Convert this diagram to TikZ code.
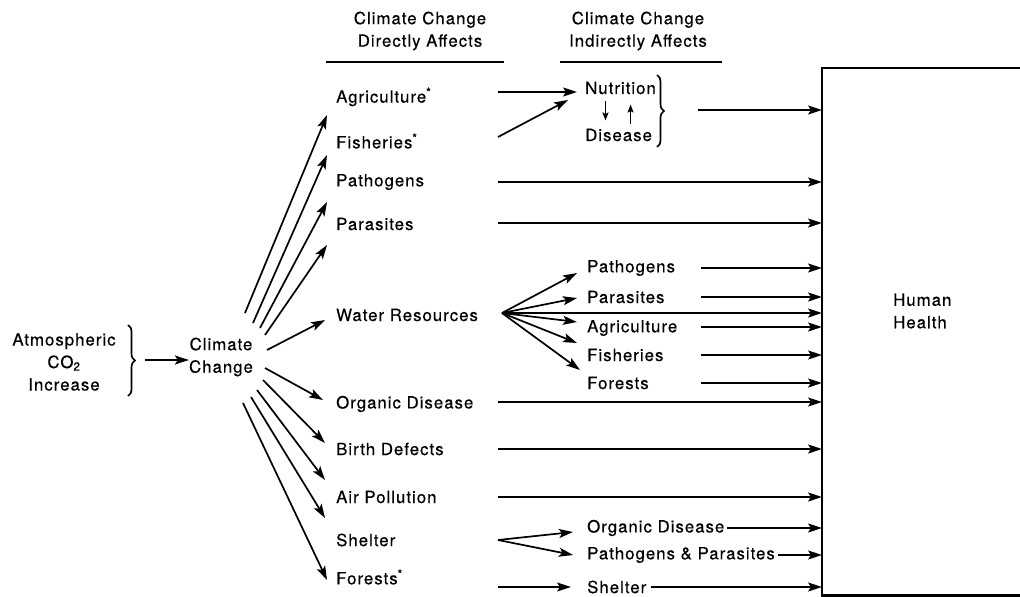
\documentclass[tikz,border=0pt]{standalone}
\usepackage{fontspec}
\setmainfont{TeX Gyre Heros}[LetterSpace=6, FakeBold=0.4]
\usetikzlibrary{arrows.meta,decorations.pathreplacing}

\begin{document}
\begin{tikzpicture}
		[x=1pt, y=-1pt,
		every node/.style = {inner sep=0pt, font=\fontsize{16.8}{22.5}\selectfont},
		item/.style = {anchor=west},
		arr/.style = {line width=1.7pt, -{Stealth[length=14pt,width=9pt,inset=3pt]}},
		small/.style = {line width=1.5pt, -{Stealth[length=8pt,width=6pt,inset=1.5pt]}},
		rule/.style = {line width=2pt},
		curly/.style = {line width=1.7pt, decorate, decoration={brace, amplitude=7pt}}]
	\useasboundingbox (0,0) rectangle (1020,597);
	% headings
	\node[align=center] (hdr1) at (420,31) {Climate Change\\Directly Affects};
	\node[align=center] (hdr2) at (638,31) {Climate Change\\Indirectly Affects};
	\draw[rule] ([shift={(-94,31)}]hdr1.center) -- ([shift={(84,31)}]hdr1.center);
	\draw[rule] ([shift={(-78,31)}]hdr2.center) -- ([shift={(84,31)}]hdr2.center);
	% source
	\node[align=center] (atm) at (64,362) {Atmospheric\\CO\textsubscript{2}\\Increase};
	\node[align=center] (cc) at (221,357) {Climate\\Change};
	\draw[curly] (128,325) -- (128,396);
	\coordinate (atmtip) at (145,360);
	\draw[arr] (atmtip) -- (cc.west |- atmtip);
	% directly affected
	\node[item] (agri) at (336,97) {Agriculture\textsuperscript{*}};
	\node[item] (fish) at (336,141) {Fisheries\textsuperscript{*}};
	\node[item] (path) at (336,182) {Pathogens};
	\node[item] (para) at (336,224) {Parasites};
	\node[item] (water) at (336,315) {Water Resources};
	\node[item] (organic) at (336,404) {Organic Disease};
	\node[item] (birth) at (336,449) {Birth Defects};
	\node[item] (air) at (336,497) {Air Pollution};
	\node[item] (shelter) at (336,540) {Shelter};
	\node[item] (forests) at (336,577) {Forests\textsuperscript{*}};
	% indirectly affected
	\node[item] (nutr) at (585,88) {Nutrition};
	\node[item] (dis) at (585,135) {Disease};
	\node[item] (wpath) at (587,268) {Pathogens};
	\node[item] (wpara) at (587,297) {Parasites};
	\node[item] (wagri) at (587,328) {Agriculture};
	\node[item] (wfish) at (587,355) {Fisheries};
	\node[item] (wfor) at (587,383) {Forests};
	\node[item] (sorg) at (587,528) {Organic Disease};
	\node[item] (spp) at (587,555) {Pathogens \& Parasites};
	\node[item] (sshel) at (587,587) {Shelter};
	% human health (the box runs off the page on the right)
	\node[anchor=north west, minimum width=198pt, minimum height=527pt] (health) at (822,68) {};
	\coordinate (edge) at (1024,0);
	\draw[line width=2.4pt] (health.north west -| edge) -- (health.north west) -- (health.south west) -- (health.south west -| edge);
	\node[item, align=left] (hhtext) at (893,311) {Human\\Health};
	% fan out of climate change
	\foreach \n/\x/\y in {1/245/313, 2/253/323, 3/260/328, 4/265/335, 5/267/350,
		6/265/368, 7/263/380, 8/257/390, 9/251/397, 10/243/403}
		\coordinate (f\n) at (\x,\y);
	\draw[arr] (f1) -- ([shift={(-9,18)}]agri.west);
	\draw[arr] (f2) -- ([shift={(-9,14)}]fish.west);
	\draw[arr] (f3) -- ([shift={(-9,20)}]path.west);
	\draw[arr] (f4) -- ([shift={(-9,21)}]para.west);
	\draw[arr] (f5) -- ([shift={(-11,5)}]water.west);
	\draw[arr] (f6) -- ([shift={(-13,-4)}]organic.west);
	\draw[arr] (f7) -- ([shift={(-11,-6)}]birth.west);
	\draw[arr] (f8) -- ([shift={(-11,-17)}]air.west);
	\draw[arr] (f9) -- ([shift={(-11,-22)}]shelter.west);
	\draw[arr] (f10) -- ([shift={(-9,3)}]forests.west);
	% nutrition and disease
	\coordinate (outA) at (498,0);
	\coordinate (outB) at (701,0);
	\coordinate (a1) at (498,92);
	\coordinate (a2) at (498,137);
	\draw[arr] (a1) -- ([shift={(-8,4)}]nutr.west);
	\draw[arr] (a2) -- ([shift={(-17,12)}]nutr.west);
	\draw[small] ([xshift=-15pt]nutr.south) ++(0,7) -- ++(0,19);
	\draw[small] ([xshift=12pt]dis.north) ++(0,-5) -- ++(0,-19);
	\draw[curly] (657,75) -- (657,147);
	\coordinate (nd) at (698,110);
	\draw[arr] (nd) -- (nd -| health.west);
	\draw[arr] (path.west -| outA) -- (path.west -| health.west);
	\draw[arr] ([yshift=1pt]para.west -| outA) -- ([yshift=1pt]para.west -| health.west);
	% water resources
	\coordinate (wfan) at (502,313);
	\draw[arr] (wfan) -- ([shift={(-10,5)}]wpath.west);
	\draw[arr] (wfan) -- ([shift={(-10,1)}]wpara.west);
	\draw[arr] (wfan) -- ([shift={(-10,-6)}]wagri.west);
	\draw[arr] (wfan) -- ([shift={(-10,-12)}]wfish.west);
	\draw[arr] (wfan) -- ([shift={(-7,-13)}]wfor.west);
	\draw[arr] (wfan) -- (wfan -| health.west);
	\draw[arr] (wpath.west -| outB) -- (wpath.west -| health.west);
	\draw[arr] (wpara.west -| outB) -- (wpara.west -| health.west);
	\draw[arr] ([yshift=1pt]wagri.west -| outB) -- ([yshift=1pt]wagri.west -| health.west);
	\draw[arr] (wfish.west -| outB) -- (wfish.west -| health.west);
	\draw[arr] (wfor.west -| outB) -- (wfor.west -| health.west);
	% straight through
	\draw[arr] ([yshift=2pt]organic.west -| outA) -- ([yshift=2pt]organic.west -| health.west);
	\draw[arr] (birth.west -| outA) -- (birth.west -| health.west);
	\draw[arr] (air.west -| outA) -- (air.west -| health.west);
	% shelter and forests
	\coordinate (sfan) at (498,540);
	\draw[arr] (sfan) -- ([shift={(-14,4)}]sorg.west);
	\draw[arr] (sfan) -- ([shift={(-14,0)}]spp.west);
	\draw[arr] ([xshift=2pt]sorg.east) -- (sorg.east -| health.west);
	\draw[arr] ([xshift=3pt]spp.east) -- (spp.east -| health.west);
	\coordinate (a3) at (498,587);
	\draw[arr] (a3) -- ([xshift=-16pt]sshel.west);
	\draw[arr] ([xshift=5pt]sshel.east) -- (sshel.east -| health.west);
\end{tikzpicture}
\end{document}
